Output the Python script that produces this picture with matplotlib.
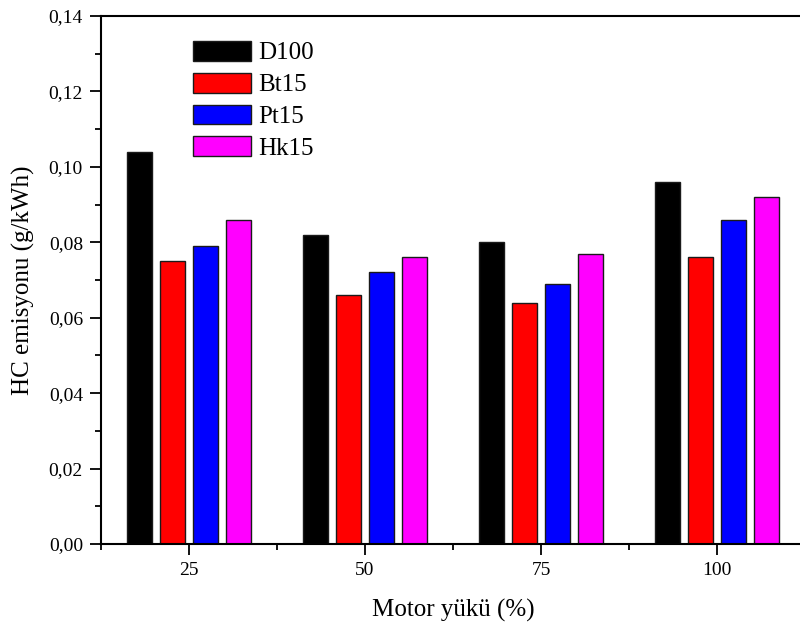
import matplotlib
matplotlib.use('Agg')
from matplotlib import pyplot as plt
from matplotlib.ticker import MultipleLocator, FuncFormatter
import numpy as np

plt.rcParams['font.family'] = ['Liberation Serif', 'DejaVu Serif']

loads = [25, 50, 75, 100]
fuels = ['D100', 'Bt15', 'Pt15', 'Hk15']
colors = ['#000000', '#ff0000', '#0000ff', '#ff00ff']

d100 = [0.104, 0.082, 0.080, 0.096]
bt15 = [0.075, 0.066, 0.064, 0.076]
pt15 = [0.079, 0.072, 0.069, 0.086]
hk15 = [0.086, 0.076, 0.077, 0.092]
series = [d100, bt15, pt15, hk15]

fig = plt.figure(figsize=(8, 6.27), dpi=100)
ax = fig.add_axes([0.12625, 0.1324, 0.88, 0.8421])

x = np.array(loads, dtype=float)
step = 4.73
width = 3.55
for i, (vals, name, c) in enumerate(zip(series, fuels, colors)):
    ax.bar(x + (i - 1.5) * step, vals, width=width, color=c,
           edgecolor='#1a1a1a', linewidth=1.0, label=name)

ax.set_xlim(12.5, 112.5)
ax.set_ylim(0, 0.14)
ax.xaxis.set_major_locator(MultipleLocator(25))
ax.xaxis.set_minor_locator(MultipleLocator(12.5))
ax.yaxis.set_major_locator(MultipleLocator(0.02))
ax.yaxis.set_minor_locator(MultipleLocator(0.01))
ax.yaxis.set_major_formatter(FuncFormatter(lambda v, p: f'{v:.2f}'.replace('.', ',')))

ax.tick_params(axis='both', which='major', direction='out', length=8, width=1.3,
               labelsize=14, pad=5)
ax.tick_params(axis='both', which='minor', direction='out', length=4, width=1.3)
ax.tick_params(top=False, right=False)

for s in ['left', 'bottom', 'top', 'right']:
    ax.spines[s].set_linewidth(1.5)

ax.set_xlabel('Motor yükü (%)', fontsize=18, labelpad=14)
ax.set_ylabel('HC emisyonu (g/kWh)', fontsize=18, labelpad=10)

ax.legend(loc='upper left', bbox_to_anchor=(0.117, 0.972), frameon=False,
          fontsize=18, handlelength=2.3, handleheight=0.85, labelspacing=0.33,
          handletextpad=0.3, borderaxespad=0)

fig.savefig('out.png', dpi=100)
